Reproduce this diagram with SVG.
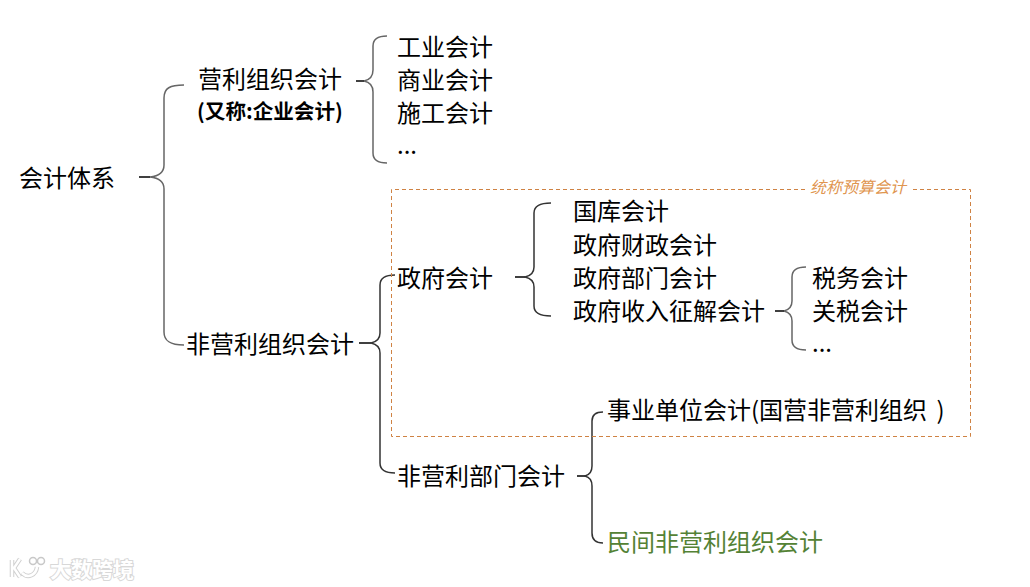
<svg xmlns="http://www.w3.org/2000/svg" width="1030" height="587" viewBox="0 0 1030 587">
<style>
text{font-family:"Noto Sans CJK SC","Liberation Sans",sans-serif;font-size:24px;fill:#000}
.b{font-weight:700;font-size:20.6px}
.g{fill:#548235}
.n{font-style:italic;font-size:16px;fill:#e0954f}
.w{font-size:21px;font-weight:700;fill:#fff;stroke:#d8d8d8;stroke-width:2;paint-order:stroke}
.br{fill:none;stroke:#333;stroke-width:1.5}
.bg{fill:none;stroke:#666;stroke-width:1.5}
.tip{fill:none;stroke:#000;stroke-width:1.5}
.dash{fill:none;stroke:#cf8243;stroke-width:1;stroke-dasharray:4 3}
.lg{fill:none;stroke:#d0d0d0;stroke-width:4.5}
.lw{fill:none;stroke:#fff;stroke-width:2.5}
.lc{fill:#fff;stroke:#c8c8c8;stroke-width:1.5}
</style>
<rect width="1030" height="587" fill="#fff"/>
<g id="connectors">
<path class="bg" d="M184 85C170 85 164 88 164 98V165C164 172 160 176 150 177C160 178 164 182 164 189V332C164 341 170 345 184 345"/>
<path class="tip" d="M139 177H150"/>
<path class="bg" d="M387 36C378 36 373 39 373 46V70C373 77 369 80 364 81C369 82 373 85 373 92V153C373 160 378 163 387 163"/>
<path class="tip" d="M356 81H364"/>
<path class="br" d="M395 275C385 275 380 278 380 285V333C380 339 376 342 371 343C376 344 380 347 380 353V463C380 470 385 473 395 473"/>
<path class="tip" d="M359 343H371"/>
<path class="br" d="M551 203C540 203 534 206 534 213V267C534 273 530 276 525 277C530 278 534 281 534 287V306C534 313 540 316 551 316"/>
<path class="tip" d="M515 277H525"/>
<path class="bg" d="M806 267C797 267 792 270 792 277V301C792 307 788 310 784 311C788 312 792 315 792 321V340C792 347 797 350 806 350"/>
<path class="tip" d="M775 311H784"/>
<path class="br" d="M603 412C596 412 592 415 592 421V466C592 472 589 475 585 476C589 477 592 480 592 486V533C592 540 596 543 603 543"/>
<path class="tip" d="M577 476H585"/>
</g>
<g id="budget-group">
<path class="dash" d="M805 189.500H391.500V436.500H970.500V189.500H913"/>
<text class="n" x="810" y="193">统称预算会计</text>
</g>
<g id="root"><text x="19" y="187">会计体系</text></g>
<g id="profit"><text x="198" y="88">营利组织会计</text><text class="b" x="197" y="119">(又称:企业会计)</text></g>
<g id="industry"><text x="397" y="56">工业会计</text></g>
<g id="commerce"><text x="397" y="89">商业会计</text></g>
<g id="construction"><text x="397" y="122">施工会计</text></g>
<g id="more1"><text x="397" y="154">...</text></g>
<g id="nonprofit"><text x="186" y="353">非营利组织会计</text></g>
<g id="gov"><text x="397" y="287">政府会计</text></g>
<g id="treasury"><text x="573" y="220">国库会计</text></g>
<g id="finance"><text x="573" y="254">政府财政会计</text></g>
<g id="dept"><text x="573" y="287">政府部门会计</text></g>
<g id="revenue"><text x="573" y="320">政府收入征解会计</text></g>
<g id="tax"><text x="812" y="287">税务会计</text></g>
<g id="customs"><text x="812" y="320">关税会计</text></g>
<g id="more2"><text x="812" y="352">...</text></g>
<g id="npdept"><text x="397" y="485">非营利部门会计</text></g>
<g id="institution"><text x="607" y="419">事业单位会计(<tspan x="759">国营非营利组织</tspan><tspan x="931"> )</tspan></text></g>
<g id="civil"><text class="g" x="607" y="551">民间非营利组织会计</text></g>
<g id="watermark">
<path class="lg" d="M12 560V577M20 559L14 568L20 577M22 573C28 579 36 575 37 567"/>
<path class="lw" d="M12 560V577M20 559L14 568L20 577M22 573C28 579 36 575 37 567"/>
<circle class="lc" cx="33" cy="561" r="3.500"/>
<circle class="lc" cx="41" cy="561" r="3.500"/>
<text class="w" x="50" y="577">大数跨境</text>
</g>
</svg>
